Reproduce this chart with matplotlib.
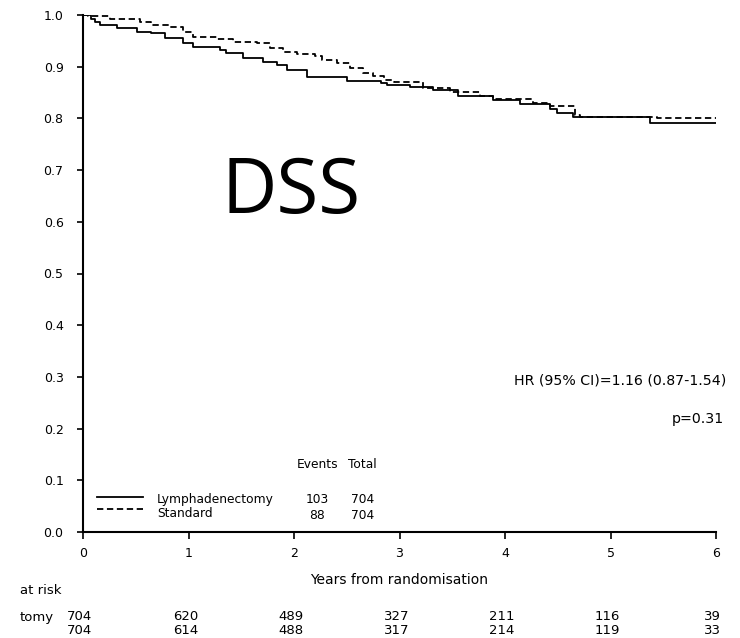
import numpy as np
import matplotlib
matplotlib.use("Agg")
import matplotlib.pyplot as plt
import matplotlib.transforms as mtransforms

plt.rcParams['font.family'] = ['DejaVu Sans']

# survival curves (step functions)
lymph_t = [0, 0.08, 0.11, 0.16, 0.32, 0.51, 0.64, 0.78, 0.95, 1.04, 1.30, 1.36, 1.52,
           1.71, 1.84, 1.93, 2.12, 2.50, 2.82, 2.88, 3.10, 3.32, 3.55, 3.89, 4.14,
           4.43, 4.49, 4.64, 5.37, 6.0]
lymph_s = [1.0, 0.993, 0.987, 0.981, 0.974, 0.968, 0.965, 0.955, 0.945, 0.939, 0.932,
           0.926, 0.916, 0.910, 0.903, 0.894, 0.881, 0.873, 0.868, 0.864, 0.860, 0.854,
           0.843, 0.836, 0.828, 0.818, 0.810, 0.803, 0.792, 0.792]

std_t = [0, 0.05, 0.26, 0.54, 0.64, 0.82, 0.95, 1.04, 1.27, 1.42, 1.65, 1.77, 1.90,
         2.03, 2.20, 2.27, 2.41, 2.53, 2.65, 2.75, 2.85, 2.95, 3.22, 3.48, 3.76, 3.89,
         4.27, 4.43, 4.66, 4.71, 5.44, 6.0]
std_s = [1.0, 0.998, 0.992, 0.987, 0.981, 0.976, 0.968, 0.958, 0.953, 0.948, 0.945,
         0.936, 0.929, 0.925, 0.921, 0.913, 0.907, 0.897, 0.888, 0.882, 0.874, 0.870,
         0.859, 0.851, 0.843, 0.838, 0.830, 0.824, 0.806, 0.803, 0.800, 0.800]

groups = ['Lymphadenectomy', 'Standard']
events = [103, 88]
totals = [704, 704]

risk_years = [0, 1, 2, 3, 4, 5, 6]
risk_lymph = [704, 620, 489, 327, 211, 116, 39]
risk_std = [704, 614, 488, 317, 214, 119, 33]

fig = plt.figure(figsize=(7.4, 6.38), dpi=100)
ax = fig.add_axes([83/740, 1-532/638, 633/740, 517/638])

ax.step(lymph_t, lymph_s, where='post', color='black', lw=1.3)
ax.step(std_t, std_s, where='post', color='black', lw=1.3, linestyle=(0, (3.5, 2)))

ax.set_xlim(0, 6)
ax.set_ylim(0, 1.0)
ax.set_xticks(range(7))
ax.set_yticks(np.arange(0, 1.01, 0.1))
ax.set_yticklabels(['%.1f' % v for v in np.arange(0, 1.01, 0.1)])
for s in ['top', 'right']:
    ax.spines[s].set_visible(False)
for s in ['left', 'bottom']:
    ax.spines[s].set_linewidth(1.5)
ax.tick_params(axis='y', length=4, width=1.2, pad=10, labelsize=9)
ax.tick_params(axis='x', length=5, width=1.2, pad=6, labelsize=9)
ax.set_xlabel('Years from randomisation', fontsize=10, labelpad=9)

# big label
ax.text(1.97, 0.656, 'DSS', fontsize=55, family='Open Sans', ha='center', va='center')

# HR annotation
ax.text(6.10, 0.294, 'HR (95% CI)=1.16 (0.87-1.54)', fontsize=10.2, ha='right',
        va='center', clip_on=False)
ax.text(6.07, 0.218, 'p=0.31', fontsize=10.2, ha='right', va='center', clip_on=False)

# legend with events/total table
ta = ax.transAxes
ax.plot([0.022, 0.095], [0.068, 0.068], color='black', lw=1.3, transform=ta)
ax.plot([0.022, 0.095], [0.044, 0.044], color='black', lw=1.3,
        linestyle=(0, (3.5, 2)), transform=ta)
ax.text(0.370, 0.1315, 'Events', fontsize=8.8, ha='center', va='center', transform=ta)
ax.text(0.441, 0.1315, 'Total', fontsize=8.8, ha='center', va='center', transform=ta)
label_y = [0.062, 0.036]
count_y = [0.062, 0.031]
for i in range(2):
    ax.text(0.117, label_y[i], groups[i], fontsize=8.8, ha='left', va='center', transform=ta)
    ax.text(0.370, count_y[i], str(events[i]), fontsize=8.8, ha='center', va='center', transform=ta)
    ax.text(0.441, count_y[i], str(totals[i]), fontsize=8.8, ha='center', va='center', transform=ta)

# numbers at risk
tr = mtransforms.blended_transform_factory(ax.transData, fig.transFigure)
fig.text(20/740, 1-590/638, 'at risk', fontsize=9.5, ha='left', va='center')
fig.text(20/740, 1-618/638, 'tomy', fontsize=9.5, ha='left', va='center')
for yr, a, b in zip(risk_years, risk_lymph, risk_std):
    ax.text(yr - 0.03, 1-617/638, str(a), fontsize=9.5, ha='center', va='center',
            transform=tr, clip_on=False)
    ax.text(yr - 0.03, 1-630/638, str(b), fontsize=9.5, ha='center', va='center',
            transform=tr, clip_on=False)

fig.savefig('out.png', dpi=100)
